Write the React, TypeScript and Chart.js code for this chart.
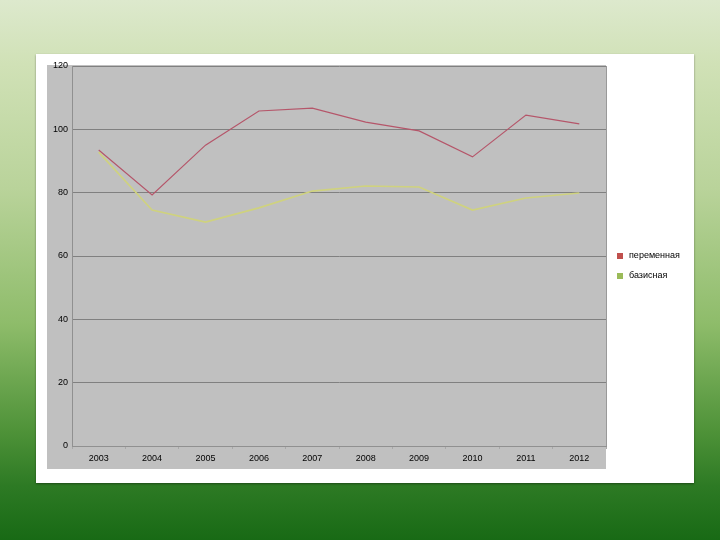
import React, { useEffect, useRef } from "react";
import { Chart, registerables } from "chart.js";

Chart.register(...registerables);

const years = ["2003", "2004", "2005", "2006", "2007", "2008", "2009", "2010", "2011", "2012"];
const variableIdx = [93.5, 79.3, 95.0, 105.8, 106.7, 102.3, 99.5, 91.3, 104.5, 101.7];
const baseIdx = [92.8, 74.5, 70.7, 75.2, 80.5, 82.1, 81.8, 74.5, 78.3, 79.9];
const seriesNames = ["переменная", "базисная"];
const legendColors = ["#c0504d", "#9bbb59"];

const FONT = "'Liberation Sans', Arial, sans-serif";

const bgPlugin = {
  id: "grayBg",
  beforeDraw(chart: any) {
    const { ctx } = chart;
    ctx.save();
    ctx.fillStyle = "#ffffff";
    ctx.fillRect(0, 0, chart.width, chart.height);
    ctx.fillStyle = "#c0c0c0";
    ctx.fillRect(11, 11, chart.chartArea.right - 11, 404);
    ctx.restore();
  },
  afterDraw(chart: any) {
    const { ctx, chartArea } = chart;
    ctx.save();
    ctx.strokeStyle = "#999999";
    ctx.lineWidth = 1;
    ctx.beginPath();
    ctx.moveTo(chartArea.right + 0.5, chartArea.top);
    ctx.lineTo(chartArea.right + 0.5, chartArea.bottom);
    ctx.stroke();
    // legend
    ctx.font = `9px ${FONT}`;
    ctx.textBaseline = "middle";
    ctx.textAlign = "left";
    chart.data.datasets.forEach((ds: any, i: number) => {
      const y = 202 + i * 20;
      const x = 581;
      ctx.fillStyle = legendColors[i];
      ctx.fillRect(x, y - 3, 6, 6);
      ctx.fillStyle = "#000000";
      ctx.fillText(ds.label, x + 12, y);
    });
    ctx.restore();
  },
};

export default function App() {
  const ref = useRef<HTMLCanvasElement | null>(null);
  useEffect(() => {
    if (!ref.current) return;
    const chart = new Chart(ref.current, {
      type: "line",
      data: {
        labels: years,
        datasets: [
          {
            label: seriesNames[0],
            data: variableIdx,
            borderColor: "#b5566a",
            borderWidth: 1.2,
            pointRadius: 0,
            tension: 0,
          },
          {
            label: seriesNames[1],
            data: baseIdx,
            borderColor: "#cfd27e",
            borderWidth: 1.6,
            pointRadius: 0,
            tension: 0,
          },
        ],
      },
      options: {
        animation: false,
        responsive: false,
        maintainAspectRatio: false,
        layout: { padding: { top: 12, right: 88, left: 0, bottom: 0 } },
        plugins: { legend: { display: false }, tooltip: { enabled: false } },
        scales: {
          x: {
            offset: true,
            grid: { display: true, drawOnChartArea: false, tickLength: 3, color: "#a8a8a8", offset: true },
            border: { color: "#909090" },
            ticks: { color: "#000", font: { family: FONT, size: 9 }, maxRotation: 0, padding: 4 },
            afterFit(scale: any) {
              scale.height = 37;
            },
          },
          y: {
            min: 0,
            max: 120,
            ticks: { stepSize: 20, color: "#000", font: { family: FONT, size: 9 }, padding: 4 },
            grid: { color: "#808080", lineWidth: 1, tickLength: 0 },
            border: { color: "#909090" },
            afterFit(scale: any) {
              scale.width = 36;
            },
          },
        },
      },
      plugins: [bgPlugin],
    });
    return () => chart.destroy();
  }, []);

  return (
    <div
      style={{
        position: "fixed",
        left: 0,
        top: 0,
        width: 720,
        height: 540,
        background:
          "linear-gradient(to bottom, #dde9cd 0%, #d0e1b6 12%, #b9d39a 35%, #8ebc6a 60%, #4e9238 80%, #2d7a24 90%, #186a15 100%)",
      }}
    >
      <div
        style={{
          position: "absolute",
          left: 36,
          top: 54,
          width: 658,
          height: 429,
          background: "#fff",
          boxShadow: "0 1px 2px rgba(0,0,0,0.4)",
        }}
      >
        <canvas ref={ref} width={658} height={429} style={{ display: "block" }} />
      </div>
    </div>
  );
}
